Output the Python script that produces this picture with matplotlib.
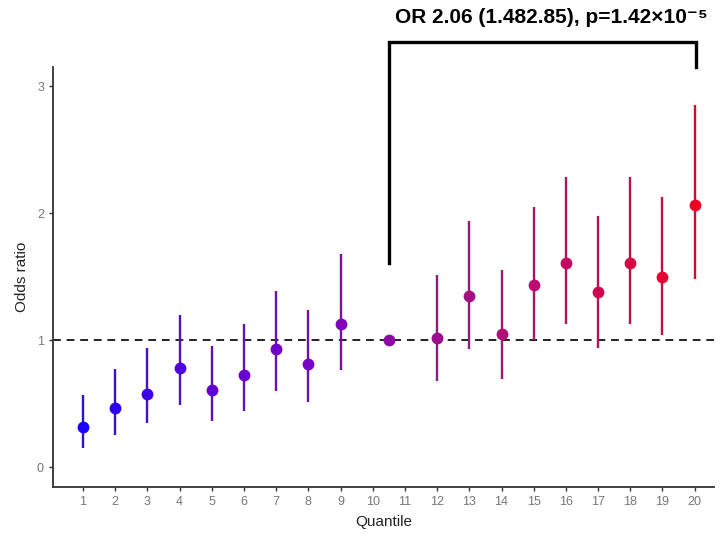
import numpy as np
import matplotlib
matplotlib.use("Agg")
import matplotlib.pyplot as plt
from matplotlib.colors import LinearSegmentedColormap, to_rgb

plt.rcParams["font.family"] = ["Liberation Sans", "DejaVu Sans"]

# Dados
quantil = [1, 2, 3, 4, 5, 6, 7, 8, 9, 10.5, 12, 13, 14, 15, 16, 17, 18, 19, 20]
odds = [0.315, 0.465, 0.575, 0.78, 0.605, 0.725, 0.93, 0.81, 1.13, 1.0,
        1.02, 1.35, 1.05, 1.43, 1.61, 1.38, 1.61, 1.50, 2.06]
ic_inf = [0.15, 0.25, 0.345, 0.49, 0.36, 0.44, 0.60, 0.51, 0.765, 1.0,
          0.68, 0.93, 0.69, 1.0, 1.13, 0.94, 1.13, 1.04, 1.48]
ic_sup = [0.567, 0.77, 0.94, 1.20, 0.95, 1.125, 1.39, 1.24, 1.68, 1.0,
          1.51, 1.94, 1.55, 2.05, 2.28, 1.98, 2.28, 2.13, 2.85]
xticks = list(range(1, 21))
yticks = [0, 1, 2, 3]
texto = "OR 2.06 (1.482.85), p=1.42\u00d710\u207b\u2075"

cmap = LinearSegmentedColormap.from_list(
    "azul_vermelho", ["#1a00ff", "#6000d4", "#7c00c4", "#a0108a", "#c80860", "#ee0022"])

fig = plt.figure(figsize=(7.2, 5.34), dpi=100)
ax = fig.add_axes([53 / 720, 47 / 534, 661 / 720, 420 / 534])

ax.axhline(1, color="#222", linestyle=(0, (4, 3)), linewidth=1.4, zorder=1)

for q, o, lo, hi in zip(quantil, odds, ic_inf, ic_sup):
    c = np.array(to_rgb(cmap((q - 1) / 19)))
    c_barra = c * 0.72 + np.array([0.35, 0.25, 0.35]) * 0.28
    ax.plot([q, q], [lo, hi], color=c_barra, linewidth=1.7, zorder=2,
            solid_capstyle="butt")
    ax.plot(q, o, "o", color=c, markersize=8.5, markeredgewidth=0, zorder=3)

ax.set_xlim(0.07, 20.6)
ax.set_ylim(-0.157, 3.15)
ax.set_xticks(xticks)
ax.set_yticks(yticks)

for lado in ["top", "right"]:
    ax.spines[lado].set_visible(False)
for lado in ["left", "bottom"]:
    ax.spines[lado].set_color("#333333")
    ax.spines[lado].set_linewidth(1.3)
ax.tick_params(colors="#333333", labelcolor="#777777", labelsize=9,
               length=3, width=1)

ax.set_xlabel("Quantile", fontsize=11, color="#222", labelpad=5)
ax.set_ylabel("Odds ratio", fontsize=11, color="#222", labelpad=6)

# Colchete de comparação
ax.plot([10.5, 10.5, 20.05, 20.05], [1.606, 3.35, 3.35, 3.15], color="black",
        linewidth=2.4, clip_on=False, solid_joinstyle="miter", zorder=4)
ax.text(15.55, 3.54, texto, ha="center", va="center", fontsize=15,
        fontweight="bold", clip_on=False)

plt.savefig("out.png", dpi=100)
